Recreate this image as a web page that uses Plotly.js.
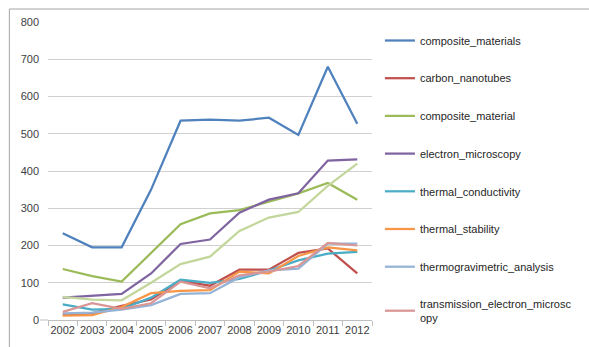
<!DOCTYPE html>
<html>
<head>
<meta charset="utf-8">
<script src="https://cdn.plot.ly/plotly-3.0.1.min.js"></script>
<style>html,body{margin:0;padding:0;background:#fff;}#chart{width:589px;height:347px;}</style>
</head>
<body>
<div id="chart"></div>
<script>
const years = ["2002","2003","2004","2005","2006","2007","2008","2009","2010","2011","2012"];
const seriesNames = ["composite_materials","carbon_nanotubes","composite_material","electron_microscopy","thermal_conductivity","thermal_stability","thermogravimetric_analysis","transmission_electron_microsc<br>opy","series9"];
const composite_materials = [233,195,195,350,535,538,535,543,497,680,527];
const carbon_nanotubes = [15,18,38,55,105,92,135,135,180,192,125];
const composite_material = [137,118,103,180,257,286,295,318,340,368,323];
const electron_microscopy = [60,66,70,125,204,216,288,323,340,428,431];
const thermal_conductivity = [42,28,30,60,108,100,110,133,160,178,183];
const thermal_stability = [12,13,35,72,78,80,130,125,172,195,187];
const thermogravimetric_analysis = [18,20,28,40,70,72,115,133,138,205,205];
const transmission_electron_microscopy = [22,45,30,45,103,85,120,130,145,207,200];
const series9 = [62,55,53,100,150,170,239,275,290,360,420];
const colors = ["#4F81BD","#C0504D","#9BBB59","#8064A2","#4BACC6","#F79646","#95B3D7","#D99694","#C3D69B"];

const allValues = [composite_materials,carbon_nanotubes,composite_material,electron_microscopy,thermal_conductivity,thermal_stability,thermogravimetric_analysis,transmission_electron_microscopy,series9];
const traces = allValues.map((v,i)=>({
  type:"scatter", mode:"lines", x:years, y:v, name:seriesNames[i],
  line:{color:colors[i], width:2.25},
  showlegend: i<8, legendgroup:"g"+i, hoverinfo:"none"
}));

const L=48, R=589-375, T=22, B=27;
const pw=589-L-R, ph=347-T-B;
const px=(x)=>(x-L)/pw, py=(y)=>1-(y-T)/ph;

const layout = {
  width:589, height:347,
  margin:{l:L, r:R, t:T, b:B, pad:0},
  paper_bgcolor:"#fff", plot_bgcolor:"#fff",
  font:{family:"Liberation Sans, Arial, sans-serif", size:11, color:"#404040"},
  xaxis:{type:"category", range:[-0.5,10.5], tickson:"boundaries", ticks:"outside", ticklen:5, tickcolor:"#BFBFBF",
    tickangle:0, showline:true, linecolor:"#BFBFBF", linewidth:1, showgrid:false, zeroline:false,
    tickfont:{size:11, color:"#404040"}, fixedrange:true},
  yaxis:{range:[0,800], dtick:100, tick0:0, showgrid:true, gridcolor:"#D0D0D0", gridwidth:1,
    zeroline:false, showline:false, ticks:"", tickfont:{size:11, color:"#404040"}, ticklabelstandoff:8},
  legend:{x:px(383), xanchor:"left", y:py(26), yanchor:"top", tracegroupgap:18.7, maxheight:1,
    font:{size:11, color:"#262626"}, bgcolor:"rgba(0,0,0,0)", itemwidth:30},
  shapes:[
    {type:"line", xref:"paper", yref:"paper", x0:px(9), x1:px(595), y0:py(9), y1:py(9), line:{color:"#A6A6A6", width:1}},
    {type:"line", xref:"paper", yref:"paper", x0:px(9), x1:px(9), y0:py(9), y1:py(352), line:{color:"#A6A6A6", width:1}},
    {type:"line", xref:"paper", yref:"paper", x0:px(40), x1:px(48), y0:0, y1:0, line:{color:"#BFBFBF", width:1}}
  ]
};
Plotly.newPlot("chart", traces, layout, {displayModeBar:false, staticPlot:true});
</script>
</body>
</html>
